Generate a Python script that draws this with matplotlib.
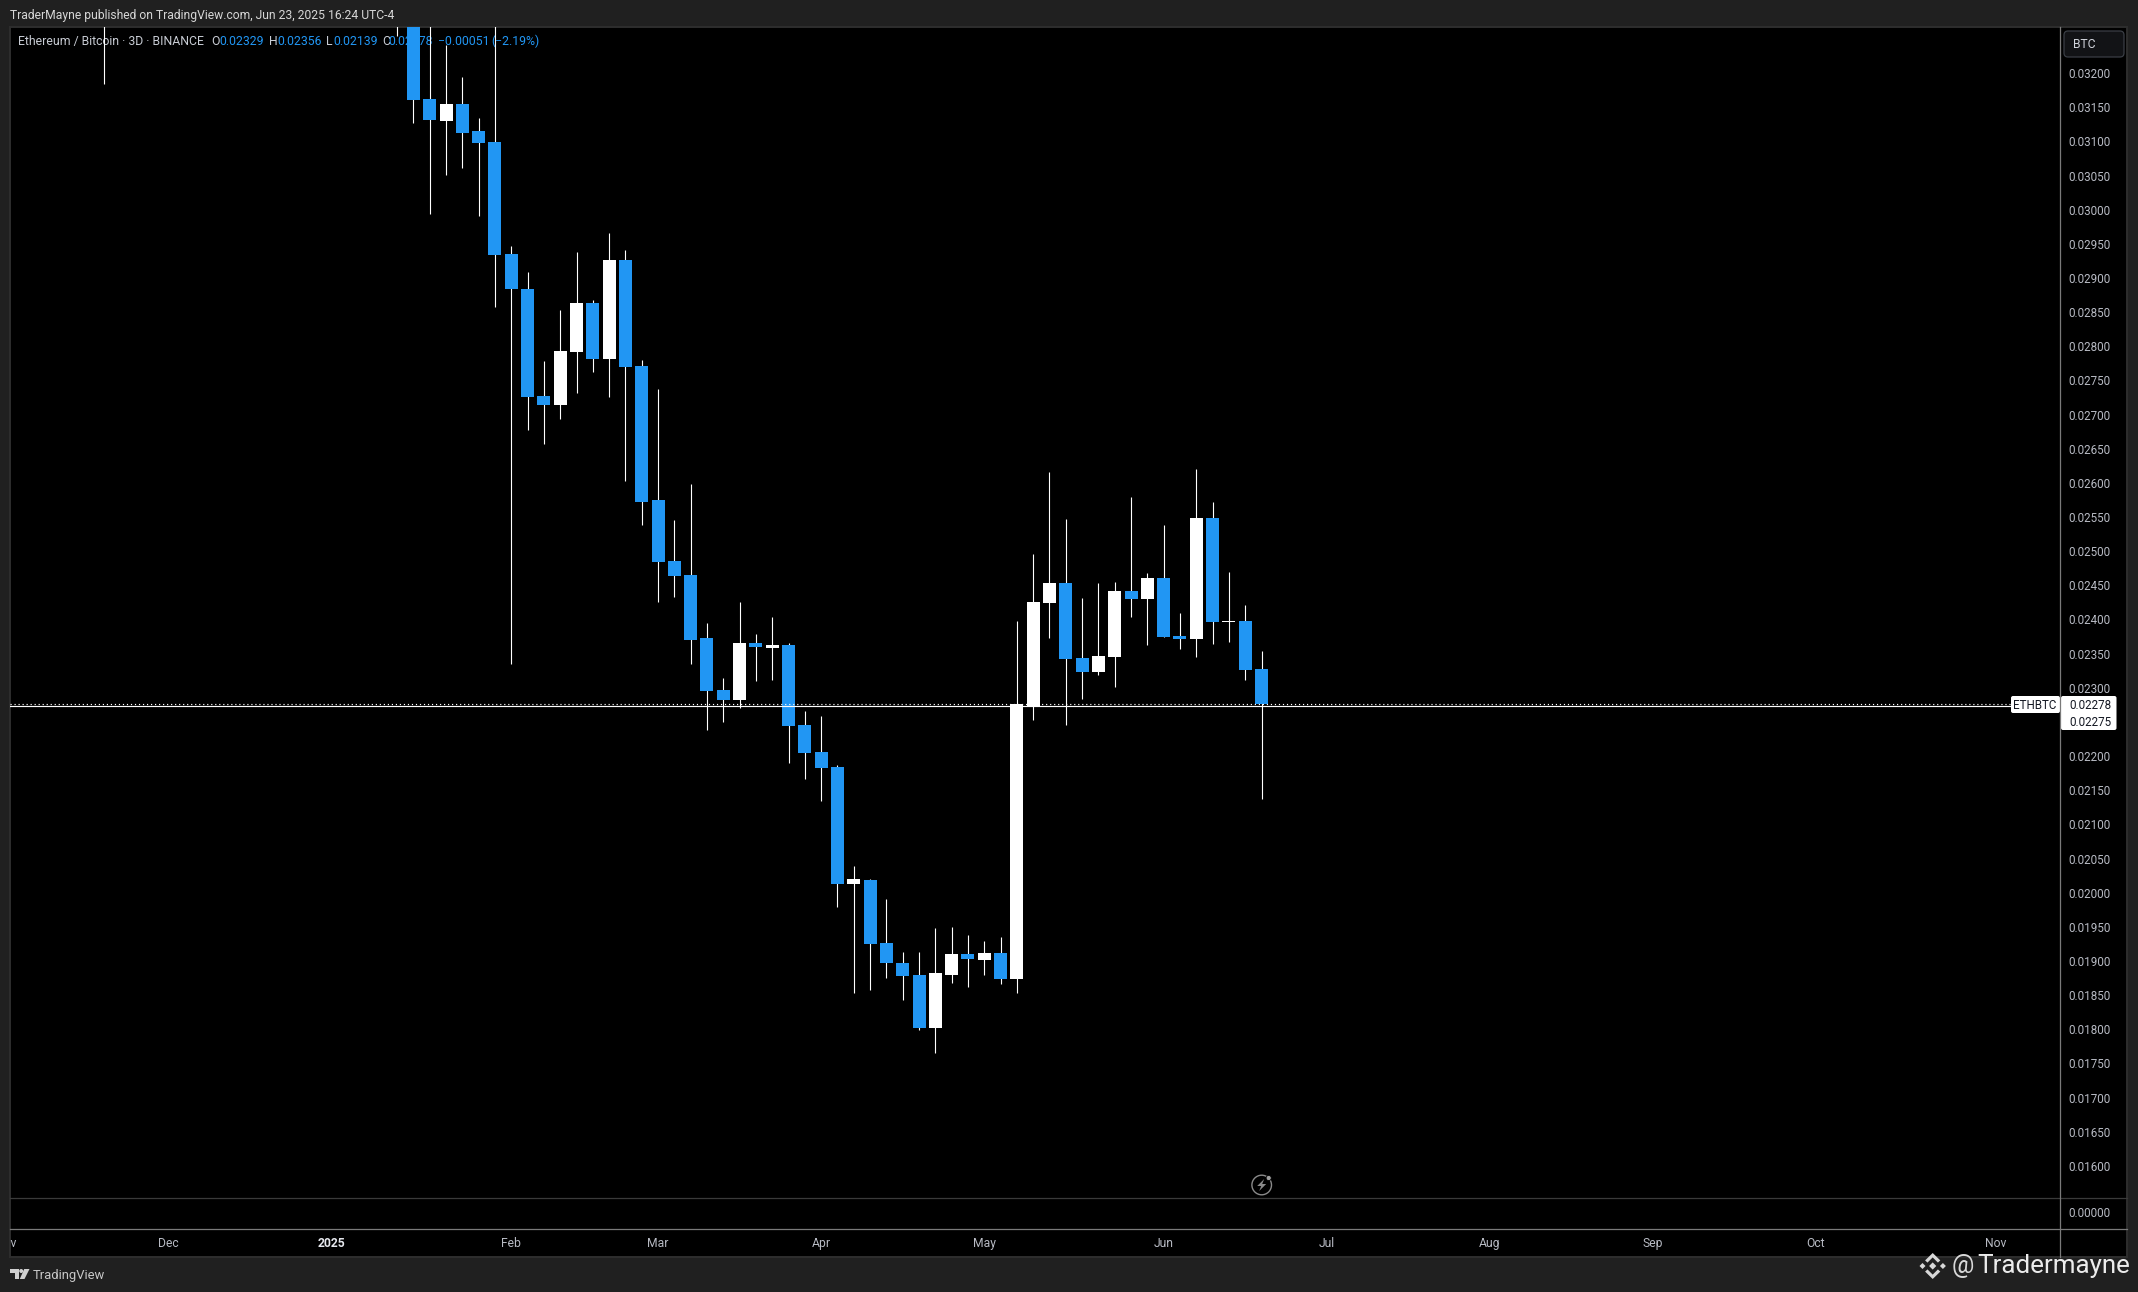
import matplotlib
matplotlib.use("Agg")
import matplotlib.pyplot as plt
from matplotlib.patches import FancyBboxPatch, Polygon, Circle
from matplotlib.transforms import Affine2D

plt.rcParams['font.family'] = ['Roboto', 'DejaVu Sans']

# ---- data (bar index 0 is the first candle whose lower body edge is in view) ----
bar_index = [-19, -1] + list(range(0, 53))
opens = [0.03345, 0.03340, 0.03290, 0.031638, 0.031325, 0.031569, 0.031174, 0.031013, 0.029373, 0.028861,
         0.027294, 0.027162, 0.027938, 0.028656, 0.027836, 0.029285, 0.027733, 0.025771, 0.024878, 0.024673,
         0.023751, 0.022990, 0.022843, 0.023678, 0.023605, 0.023649, 0.022477, 0.022082, 0.021862, 0.020149,
         0.020208, 0.019285, 0.018993, 0.018817, 0.018041, 0.018817, 0.019124, 0.019036, 0.019139, 0.018758,
         0.022745, 0.024263, 0.024556, 0.023458, 0.023253, 0.023473, 0.024439, 0.024322, 0.024629, 0.023780,
         0.023736, 0.025508, 0.023985, 0.024000, 0.02329]
highs = [0.03370, 0.03360, 0.03320, 0.03280, 0.032433, 0.031960, 0.031364, 0.03280, 0.029490, 0.029110,
         0.027807, 0.028553, 0.029402, 0.028700, 0.029681, 0.029432, 0.027821, 0.027397, 0.025479, 0.026006,
         0.023971, 0.023165, 0.024278, 0.023810, 0.024058, 0.023678, 0.022682, 0.022609, 0.021892, 0.020413,
         0.020222, 0.019930, 0.019154, 0.019154, 0.019505, 0.019520, 0.019403, 0.019315, 0.019373, 0.024000,
         0.024981, 0.026181, 0.025493, 0.024337, 0.024556, 0.024571, 0.025815, 0.024703, 0.025405, 0.024117,
         0.026225, 0.025742, 0.024717, 0.024234, 0.02356]
lows = [0.031867, 0.032569, 0.031296, 0.029963, 0.030534, 0.030637, 0.029934, 0.028602, 0.023375, 0.026801,
        0.026596, 0.026957, 0.027338, 0.027646, 0.027279, 0.026050, 0.025405, 0.024278, 0.024351, 0.023370,
        0.022408, 0.022526, 0.022730, 0.023121, 0.023140, 0.021925, 0.021687, 0.021365, 0.019813, 0.018553,
        0.018598, 0.018773, 0.018451, 0.018012, 0.017675, 0.018700, 0.018641, 0.018817, 0.018685, 0.018553,
        0.022551, 0.023751, 0.022477, 0.022858, 0.023209, 0.023034, 0.024058, 0.023649, 0.023766, 0.023590,
        0.023473, 0.023663, 0.023692, 0.023136, 0.02139]
closes = [0.03320, 0.03290, 0.031632, 0.031335, 0.031569, 0.031149, 0.030998, 0.029359, 0.028861, 0.027279,
          0.027162, 0.027953, 0.028656, 0.027836, 0.029285, 0.027719, 0.025742, 0.024864, 0.024659, 0.023722,
          0.022975, 0.022843, 0.023678, 0.023619, 0.023649, 0.022463, 0.022067, 0.021848, 0.020149, 0.020222,
          0.019271, 0.018993, 0.018802, 0.018041, 0.018846, 0.019124, 0.019051, 0.019139, 0.018758, 0.022785,
          0.024278, 0.024556, 0.023443, 0.023253, 0.023487, 0.024439, 0.024322, 0.024629, 0.023766, 0.023736,
          0.025508, 0.023985, 0.024000, 0.023283, 0.02278]

price_ticks = [0.0320, 0.0315, 0.0310, 0.0305, 0.0300, 0.0295, 0.0290, 0.0285, 0.0280, 0.0275, 0.0270,
               0.0265, 0.0260, 0.0255, 0.0250, 0.0245, 0.0240, 0.0235, 0.0230, 0.0220, 0.0215, 0.0210,
               0.0205, 0.0200, 0.0195, 0.0190, 0.0185, 0.0180, 0.0175, 0.0170, 0.0165, 0.0160]
month_labels = ['Nov', 'Dec', '2025', 'Feb', 'Mar', 'Apr', 'May', 'Jun', 'Jul', 'Aug', 'Sep', 'Oct', 'Nov']
month_bars = [-25, -15, -5, 6, 15, 25, 35, 46, 56, 66, 76, 86, 97]
last_price = 0.02278
close_price = 0.02275

# ---- layout in pixels ----
W, H = 2138, 1292
L, R, T, SEP, TAX, B, RR = 10, 2060, 27, 1198, 1229, 1257, 2127
BAR0, STEP = 413.4, 16.31
Y_A, Y_B = 0.033092, 1.4641e-5
OUTER, BLUE, LBL = '#202020', '#2196F3', '#b8bbc4'

fig = plt.figure(figsize=(W / 100, H / 100), dpi=100, facecolor=OUTER)
px = Affine2D().scale(1 / W, -1 / H).translate(0, 1) + fig.transFigure


def box(x0, y0, x1, y1):
    return [x0 / W, 1 - y1 / H, (x1 - x0) / W, (y1 - y0) / H]


# black plate behind panes and axis strip
plate = fig.add_axes(box(L, T, RR, B), facecolor='black', zorder=0)
plate.set_xticks([]); plate.set_yticks([])
for s in plate.spines.values():
    s.set_color('#2e2e2e'); s.set_linewidth(1.4)

ax = fig.add_axes(box(L, T, R, SEP), facecolor='none', zorder=1)
ax.set_xlim((L - BAR0) / STEP, (R - BAR0) / STEP)
ax.set_ylim(Y_A - SEP * Y_B, Y_A - T * Y_B)
for s in ax.spines.values():
    s.set_visible(False)
ax.set_xticks([])
ax.yaxis.tick_right()
ax.set_yticks(price_ticks, [f'{v:.5f}' for v in price_ticks])
ax.tick_params(axis='y', length=0, pad=6.0, labelsize=8.4, labelcolor=LBL)
for t in ax.get_yticklabels():
    t.set_verticalalignment('center')

colors = ['white' if c >= o else BLUE for o, c in zip(opens, closes)]
wicks = ax.vlines(bar_index, lows, highs, color='white', lw=0.8, zorder=2)
wicks.set_snap(True)
ax.bar(bar_index, [abs(c - o) for o, c in zip(opens, closes)],
       bottom=[min(o, c) for o, c in zip(opens, closes)],
       width=13 / STEP, color=colors, linewidth=0, zorder=3)
ax.axhline(last_price, color='white', lw=0.85, ls=(0, (1, 2.4)), zorder=4)
ax.axhline(close_price, color='white', lw=0.85, zorder=4)

# legend under the candles
legend_parts = [(18, 'Ethereum / Bitcoin · 3D · BINANCE', '#c8ccd4'),
                (211, 'O', '#c8ccd4'), (219, '0.02329', BLUE),
                (269, 'H', '#c8ccd4'), (277, '0.02356', BLUE),
                (326, 'L', '#c8ccd4'), (333, '0.02139', BLUE),
                (382, 'C', '#c8ccd4'), (388, '0.02278', BLUE),
                (438, '−0.00051', BLUE), (491, '(−2.19%)', BLUE)]
for x, s, c in legend_parts:
    ax.text(x, 41.5, s, color=c, fontsize=8.8, va='center', ha='left', transform=px, zorder=1, clip_on=False)

# lower empty pane
low = fig.add_axes(box(L, SEP, R, TAX), facecolor='none', zorder=1)
low.set_xlim(ax.get_xlim()); low.set_ylim(-1, 1)
low.set_xticks([])
low.yaxis.tick_right()
low.set_yticks([0], ['0.00000'])
low.tick_params(axis='y', length=0, pad=6.0, labelsize=8.4, labelcolor=LBL)
for t in low.get_yticklabels():
    t.set_verticalalignment('center')
for s in low.spines.values():
    s.set_visible(False)

# time axis
tax = fig.add_axes(box(L, TAX, R, B), facecolor='none', zorder=1)
tax.set_xlim(ax.get_xlim()); tax.set_ylim(0, 1)
tax.axis('off')
for b, s in zip(month_bars, month_labels):
    tax.text(b, 0.49, s, ha='center', va='center', fontsize=8.7, clip_on=True,
             color='#e6e8ee' if s == '2025' else LBL, fontweight='bold' if s == '2025' else 'normal')

# furniture, in pixels
ov = fig.add_axes([0, 0, 1, 1], facecolor='none', zorder=5)
ov.set_xlim(0, W); ov.set_ylim(H, 0); ov.axis('off')
ov.plot([L, RR], [SEP, SEP], color='#3a3a3a', lw=0.9)
ov.plot([L, RR], [TAX, TAX], color='#7a7a7a', lw=0.9)
ov.plot([R, R], [T, B], color='#7a7a7a', lw=0.9)

# price labels on the axis
ov.add_patch(FancyBboxPatch((2011, 696), 49, 17, boxstyle='round,pad=0,rounding_size=2', fc='white', ec='none'))
ov.add_patch(FancyBboxPatch((2061, 696), 55.5, 34, boxstyle='round,pad=0,rounding_size=2', fc='white', ec='none'))
ov.text(2035, 705.4, 'ETHBTC', color='#131722', fontsize=8.4, ha='center', va='center')
ov.text(2069, 705.4, f'{last_price:.5f}', color='#131722', fontsize=8.4, ha='left', va='center')
ov.text(2069, 722.4, f'{close_price:.5f}', color='#131722', fontsize=8.4, ha='left', va='center')

# BTC unit button
ov.add_patch(FancyBboxPatch((2064, 31), 60, 26, boxstyle='round,pad=0,rounding_size=4', fc='#121316', ec='#3a3e45', lw=0.9))
ov.text(2073, 45, 'BTC', color='#d1d4dc', fontsize=8.7, ha='left', va='center')

# header and footer text
ov.text(10, 15, 'TraderMayne published on TradingView.com, Jun 23, 2025 16:24 UTC-4',
        color='#d6d6d6', fontsize=8.7, ha='left', va='center')
ov.text(33, 1275, 'TradingView', color='#c8c8c8', fontsize=9.4, ha='left', va='center')
ov.add_patch(Polygon([(10, 1269), (19.3, 1269), (19.3, 1279), (15, 1279), (15, 1273), (10, 1273)], fc='#d0d0d0', ec='none'))
ov.add_patch(Circle((21.2, 1271), 2, fc='#d0d0d0', ec='none'))
ov.add_patch(Polygon([(24.2, 1269), (29.5, 1269), (24.5, 1279), (19.8, 1279)], fc='#d0d0d0', ec='none'))

# signature and exchange mark
cx, cy = 1932.7, 1266
LOGO = '#d8d8d8'
for dx in (-10.2, 0, 10.2):
    r = 3.6 if dx == 0 else 3
    ov.add_patch(Polygon([(cx + dx - r, cy), (cx + dx, cy - r), (cx + dx + r, cy), (cx + dx, cy + r)], fc=LOGO, ec='none'))
ov.add_patch(Polygon([(cx - 7.6, cy - 5.6), (cx, cy - 13), (cx + 7.6, cy - 5.6), (cx + 5.2, cy - 3.4), (cx, cy - 8.6), (cx - 5.2, cy - 3.4)], fc=LOGO, ec='none'))
ov.add_patch(Polygon([(cx - 7.6, cy + 5.6), (cx, cy + 13), (cx + 7.6, cy + 5.6), (cx + 5.2, cy + 3.4), (cx, cy + 8.6), (cx - 5.2, cy + 3.4)], fc=LOGO, ec='none'))
ov.text(1952, 1266, '@', color='#d8d8d8', fontsize=18, ha='left', va='center')
ov.text(1977, 1266, 'Tradermayne', color='#ececec', fontsize=18.7, ha='left', va='center')

# bolt icon
ix, iy = 1261.7, 1185
ov.add_patch(Circle((ix, iy), 9.8, fc='none', ec='#8a8a8a', lw=1))
ov.add_patch(Circle((ix + 7, iy - 7), 2.6, fc='#a0a0a0', ec='black', lw=0.6))
ov.add_patch(Polygon([(ix + 2.5, iy - 6), (ix - 4.5, iy + 1), (ix - 0.5, iy + 1), (ix - 2.5, iy + 6), (ix + 4.5, iy - 1), (ix + 0.5, iy - 1)], fc='#8a8a8a', ec='none'))

fig.savefig('out.png', dpi=100, facecolor=OUTER)
